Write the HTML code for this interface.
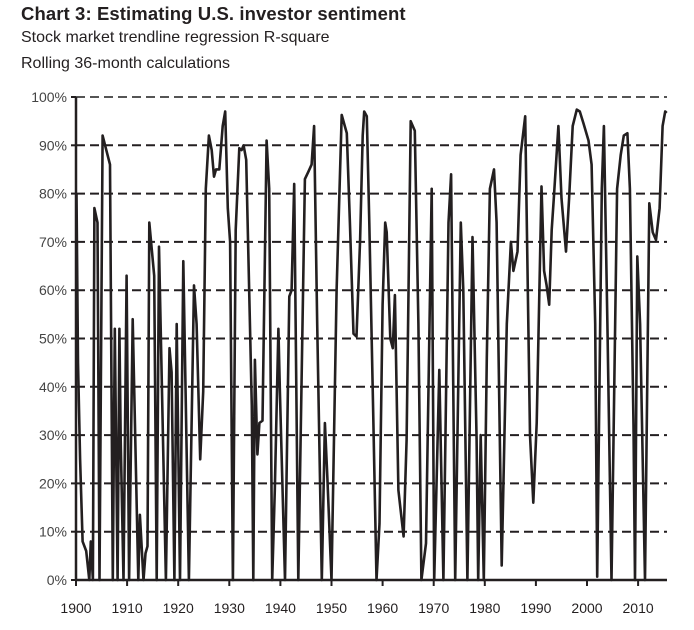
<!DOCTYPE html>
<html><head><meta charset="utf-8"><style>
body{margin:0;background:#fff;width:694px;height:630px;overflow:hidden;font-family:"Liberation Sans",sans-serif;}
.t{position:absolute;left:21px;white-space:nowrap;color:#231f20;}
</style></head><body>
<div class="t" style="top:3px;font-size:18.5px;font-weight:bold;letter-spacing:0.1px">Chart 3: Estimating U.S. investor sentiment</div>
<div class="t" style="top:29px;font-size:16px">Stock market trendline regression R-square</div>
<div class="t" style="top:55px;font-size:16px">Rolling 36-month calculations</div>
<svg id="chart" width="694" height="630" style="position:absolute;left:0;top:0"></svg>
<script>
const years=[1900.1,1900.4,1900.8,1901.3,1902.0,1902.6,1902.9,1903.3,1903.6,1904.2,1904.6,1905.2,1906.65,1907.2,1907.6,1908.15,1908.5,1908.75,1909.3,1909.9,1910.4,1911.1,1912.2,1912.5,1913.2,1913.6,1914.0,1914.35,1915.3,1915.8,1916.25,1917.6,1918.3,1918.7,1919.25,1919.7,1920.35,1921.0,1922.1,1923.1,1923.6,1924.3,1924.9,1925.4,1926.0,1926.55,1927.0,1927.4,1928.05,1928.7,1929.2,1929.7,1930.15,1930.7,1931.25,1931.95,1932.4,1932.8,1933.3,1934.4,1934.7,1935.0,1935.5,1935.9,1936.5,1937.3,1937.8,1938.4,1938.9,1939.6,1939.9,1940.9,1941.75,1942.2,1942.7,1943.5,1944.8,1945.5,1946.1,1946.6,1947.2,1948.1,1948.7,1949.2,1950.0,1951.0,1952.0,1953.0,1953.6,1954.3,1954.9,1955.6,1956.1,1956.4,1956.9,1957.4,1958.2,1958.8,1959.4,1960.0,1960.5,1960.8,1961.5,1962.0,1962.4,1963.1,1964.1,1964.7,1965.5,1966.3,1967.0,1967.6,1968.5,1969.6,1970.1,1971.1,1971.9,1972.9,1973.4,1974.2,1975.3,1975.8,1976.6,1977.6,1978.4,1978.7,1979.2,1979.8,1980.4,1981.0,1981.8,1982.3,1983.3,1984.3,1985.1,1985.6,1986.4,1987.0,1987.9,1988.85,1989.5,1990.15,1991.1,1991.6,1992.1,1992.6,1993.1,1993.5,1994.4,1995.0,1995.9,1996.5,1997.2,1998.0,1998.6,1999.3,2000.3,2000.9,2001.6,2002.0,2002.9,2003.3,2004.0,2004.8,2005.9,2006.6,2007.2,2007.9,2008.4,2009.1,2009.4,2009.85,2010.4,2011.35,2012.2,2012.85,2013.5,2014.2,2014.8,2015.3,2015.6];
const values=[80,45,25,8,6,0,8,0,77,74,0,92,86,0,52,0,52,29,0,63,0,54,0,13.5,0,5.5,7,74,63,0,69,0,48,43,0,53,0,66,0,61,53,25,39,81,92,89,83.5,85,85,94,97,77,70,0,72.5,89.4,89,90,87,36,0,45.6,26,32.5,33,91,81,0,18.6,52,39,0,58.7,60,82,0,83,84.6,86,94,53,0,32.5,21,0,60,96.3,92.5,74,51,50.4,70.4,92,97,96,74,32.5,0,11.7,57,74,72,50,48,59,18.6,9,29,95,93,53,0,7.6,81,0,43.5,0,74,84,0,74,60,0,71,29,0,30,0,46,81,85,74,3,53,70,64,68,88,96,30,16,32.5,81.5,64,61,57,72.5,79,94,79,68,79,94,97.4,97,94.6,91,86,53,0.7,81,94,53,0,81,88,92,92.5,81,32,0,67,53,0,78,72,70.4,77,94,97,96.7];
const yTicks=[0,10,20,30,40,50,60,70,80,90,100];
const xTicks=[1900,1910,1920,1930,1940,1950,1960,1970,1980,1990,2000,2010];
const X0=76,Y0=580,Y100=97,XR=667;
function xs(yr){return 76+(yr-1900)*5.11;}
function ys(v){return Y0-(v/100)*(Y0-Y100);}
const svg=document.getElementById('chart');const NS='http://www.w3.org/2000/svg';
function mk(t,a){const e=document.createElementNS(NS,t);for(const k in a)e.setAttribute(k,a[k]);svg.appendChild(e);return e;}
yTicks.forEach(v=>{
 if(v>0){const g=mk('line',{x1:X0,x2:XR,y1:ys(v),y2:ys(v),stroke:v==100?'#555':'#231f20','stroke-width':2,'stroke-dasharray':'9,5'});
 
 }
 const tk=mk('line',{x1:X0-5,x2:X0,y1:ys(v),y2:ys(v),stroke:'#231f20','stroke-width':2});
 
 
 const t=mk('text',{x:67,y:ys(v)+5,'text-anchor':'end','font-size':14,fill:'#444','font-family':'Liberation Sans, sans-serif'});
 t.textContent=v+'%';
 
 
});
xTicks.forEach(yr=>{
 const tk=mk('line',{x1:xs(yr),x2:xs(yr),y1:Y0,y2:Y0+6,stroke:'#231f20','stroke-width':2});
 
 
 const t=mk('text',{x:xs(yr),y:613,'text-anchor':'middle','font-size':14,fill:'#231f20','font-family':'Liberation Sans, sans-serif'});
 t.textContent=yr;
 
 
});
const ya=mk('line',{x1:X0,x2:X0,y1:Y100,y2:Y0,stroke:'#231f20','stroke-width':2.5});


const xa=mk('line',{x1:X0,x2:XR,y1:Y0,y2:Y0,stroke:'#231f20','stroke-width':2.5});


const d=years.map((yr,i)=>(i?'L':'M')+xs(yr).toFixed(1)+','+ys(values[i]).toFixed(1)).join('');
const p=mk('path',{d:d,fill:'none',stroke:'#231f20','stroke-width':2.6,'stroke-linejoin':'round'});


</script>
</body></html>
